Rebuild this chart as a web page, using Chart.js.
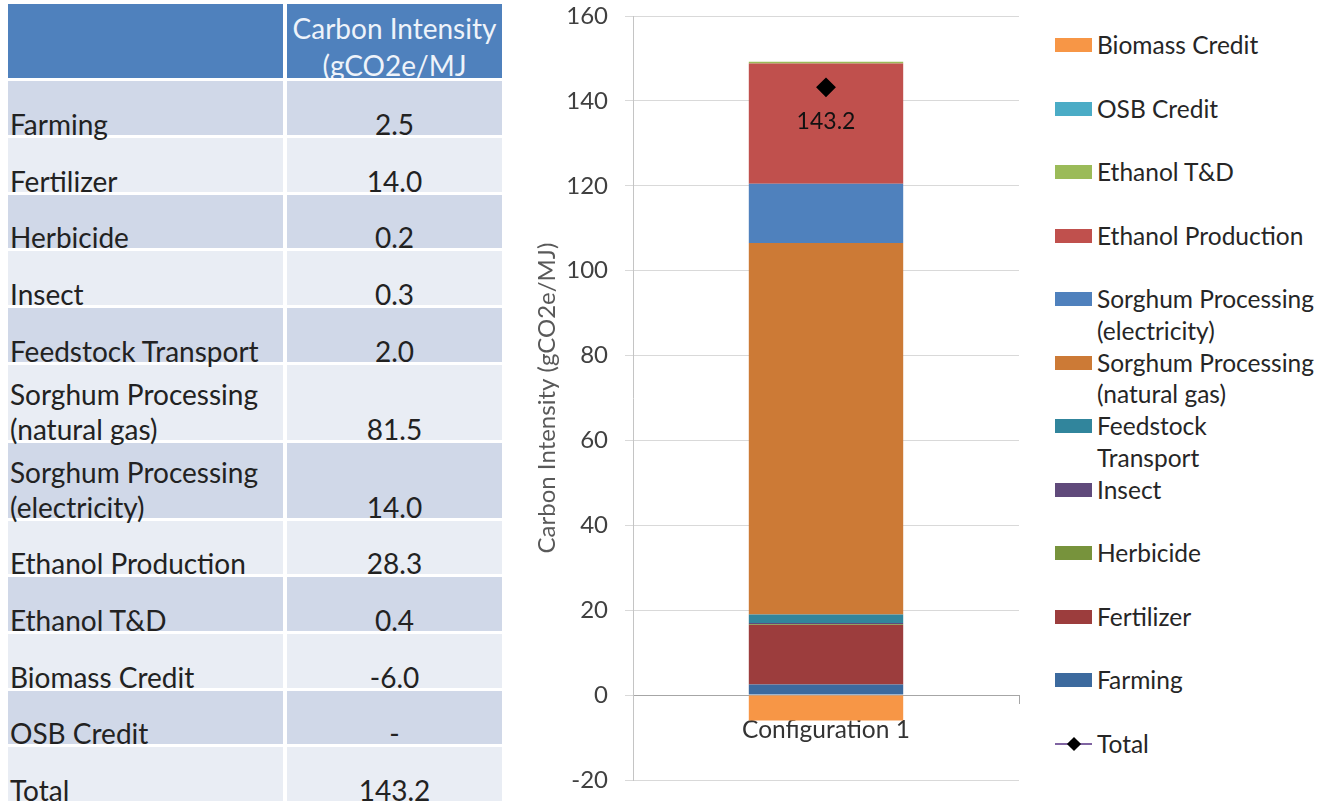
<!DOCTYPE html>
<html>
<head>
<meta charset="utf-8">
<script src="https://cdn.jsdelivr.net/npm/chart.js@4.4.1/dist/chart.umd.min.js"></script>
<style>
  body { margin: 0; background: #fff; width: 1330px; height: 804px; overflow: hidden; position: relative; font-family: Lato, sans-serif; }
  #ciTable { position: absolute; left: 4px; top: 1.3px; border-collapse: separate; border-spacing: 4px 3.8px; font-size: 28px; color: #222; }
  #ciTable tbody tr { height: 53.7px; }
  #ciTable td { padding: 5px 0 0 2px; vertical-align: bottom; line-height: 35px; }
  #ciTable td span { position: relative; top: 7px; }
  #ciTable td.val { text-align: center; padding-left: 0; }
  #ciTable col.c1 { width: 275px; }
  #ciTable col.c2 { width: 215px; }
  #ciTable th { background: #4f81bd; height: 74px; padding: 0; vertical-align: top; }
  #ciTable th div { height: 74px; overflow: hidden; color: #eef3fa; font-weight: normal; line-height: 37px; padding-top: 6px; box-sizing: border-box; text-align: center; }
  #ciTable tr.odd td { background: #d0d8e8; }
  #ciTable tr.even td { background: #e9edf4; }
  #chartBox { position: absolute; left: 520px; top: 0; width: 510px; height: 804px; }
  #legendBox { position: absolute; left: 1055px; top: 29px; width: 275px; font-size: 24.5px; color: #262626; }
  .lg-item { display: flex; align-items: flex-start; height: 63.5px; line-height: 31.75px; }
  .lg-sw { width: 37px; height: 14px; margin-top: 9px; margin-right: 5px; flex: none; position: relative; }
  .lg-text { width: 230px; white-space: pre-line; }
</style>
</head>
<body>
<table id="ciTable">
  <colgroup><col class="c1"><col class="c2"></colgroup>
  <thead><tr><th></th><th><div>Carbon Intensity<br>(gCO2e/MJ</div></th></tr></thead>
  <tbody></tbody>
</table>
<div id="chartBox"><canvas id="myChart"></canvas></div>
<div id="legendBox"></div>
<script>
// DATA
const categories = ["Configuration 1"];
const components = ["Farming", "Fertilizer", "Herbicide", "Insect", "Feedstock Transport",
  "Sorghum Processing (natural gas)", "Sorghum Processing (electricity)", "Ethanol Production",
  "Ethanol T&D", "OSB Credit", "Biomass Credit"];
// bar heights as drawn in the chart (natural gas segment is shown gross of the biomass credit)
const chartValues = [2.5, 14.0, 0.2, 0.3, 2.0, 87.5, 14.0, 28.3, 0.4, null, -6.0];
const totalValues = [143.2];
// table rows, as listed in the table
const tableNames = ["Farming", "Fertilizer", "Herbicide", "Insect", "Feedstock Transport",
  "Sorghum Processing (natural gas)", "Sorghum Processing (electricity)", "Ethanol Production",
  "Ethanol T&D", "Biomass Credit", "OSB Credit", "Total"];
const tableValues = [2.5, 14.0, 0.2, 0.3, 2.0, 81.5, 14.0, 28.3, 0.4, -6.0, null, 143.2];
const legendNames = ["Farming", "Fertilizer", "Herbicide", "Insect", "Feedstock\nTransport",
  "Sorghum Processing\n(natural gas)", "Sorghum Processing\n(electricity)", "Ethanol Production",
  "Ethanol T&D", "OSB Credit", "Biomass Credit"];
const yMin = -20, yMax = 160, yStep = 20;
const yTitle = "Carbon Intensity (gCO2e/MJ)";

// STYLE
const componentColors = ["#3c6a9e", "#9c3d3d", "#77933c", "#604a7b", "#31859c",
  "#cc7a36", "#4f81bd", "#c0504d", "#9bbb59", "#4bacc6", "#f79646"];
const totalLineColor = "#8064a2";
const tickFont = { family: "Lato", size: 24 };

// TABLE
const tbody = document.querySelector("#ciTable tbody");
const fmt = v => v == null ? "-" : v.toFixed(1);
tableNames.forEach((name, i) => {
  const tr = document.createElement("tr");
  tr.className = i % 2 === 0 ? "odd" : "even";
  const a = document.createElement("td");
  const sa = document.createElement("span"); sa.textContent = name; a.appendChild(sa);
  const b = document.createElement("td"); b.className = "val";
  const sb = document.createElement("span"); sb.textContent = fmt(tableValues[i]); b.appendChild(sb);
  tr.appendChild(a); tr.appendChild(b); tbody.appendChild(tr);
});

// CHART
const datasets = components.map((name, i) => ({
  label: name,
  data: [chartValues[i]],
  backgroundColor: componentColors[i],
  borderWidth: 0,
  stack: "parts",
  order: 1,
  categoryPercentage: 1,
  barPercentage: 0.4
}));
datasets.push({
  type: "line",
  label: "Total",
  data: totalValues,
  borderColor: totalLineColor,
  borderWidth: 2,
  pointStyle: "rectRot",
  pointRadius: 8.5,
  pointBackgroundColor: "#000",
  pointBorderColor: "#000",
  stack: "total",
  order: 0
});

const totalLabel = {
  id: "totalLabel",
  afterDatasetsDraw(chart) {
    const ctx = chart.ctx;
    chart.data.datasets.forEach((ds, di) => {
      if (ds.type !== "line") return;
      chart.getDatasetMeta(di).data.forEach((pt, i) => {
        ctx.save();
        ctx.font = "23px Lato";
        ctx.fillStyle = "#111";
        ctx.textAlign = "center";
        ctx.textBaseline = "middle";
        ctx.fillText(ds.data[i].toFixed(1), pt.x, pt.y + 34);
        ctx.restore();
      });
    });
  }
};

const htmlLegend = {
  id: "htmlLegend",
  afterUpdate(chart) {
    const box = document.getElementById("legendBox");
    box.innerHTML = "";
    const items = chart.options.plugins.legend.labels.generateLabels(chart);
    const isLine = it => chart.data.datasets[it.datasetIndex].type === "line";
    const bars = items.filter(it => !isLine(it)).sort((a, b) => b.datasetIndex - a.datasetIndex);
    const lines = items.filter(isLine);
    bars.concat(lines).forEach(it => {
      const row = document.createElement("div");
      row.className = "lg-item";
      const sw = document.createElement("div");
      sw.className = "lg-sw";
      if (isLine(it)) {
        sw.innerHTML = '<div style="position:absolute;left:0;right:0;top:6px;height:2px;background:' + it.strokeStyle +
          '"></div><div style="position:absolute;left:14px;top:2px;width:10px;height:10px;background:#000;transform:rotate(45deg)"></div>';
      } else {
        sw.style.background = it.fillStyle;
      }
      const tx = document.createElement("div");
      tx.className = "lg-text";
      tx.textContent = isLine(it) ? it.text : legendNames[it.datasetIndex];
      row.appendChild(sw); row.appendChild(tx);
      box.appendChild(row);
    });
  }
};

const config = {
  type: "bar",
  data: { labels: categories, datasets: datasets },
  plugins: [totalLabel, htmlLegend],
  options: {
    responsive: true,
    maintainAspectRatio: false,
    animation: false,
    layout: { padding: { top: 16, right: 11, bottom: 24, left: 0 } },
    plugins: { legend: { display: false }, tooltip: { enabled: false } },
    scales: {
      x: {
        stacked: true,
        position: { y: 0 },
        grid: { drawOnChartArea: false, drawTicks: true, tickLength: 8, color: "#a6a6a6", offset: true },
        border: { color: "#a6a6a6" },
        ticks: { font: { family: "Lato", size: 24.5 }, color: "#333", padding: 12 }
      },
      y: {
        stacked: true,
        min: yMin,
        max: yMax,
        ticks: { stepSize: yStep, font: tickFont, color: "#404040", padding: 17 },
        grid: { color: "#d9d9d9", tickLength: 8 },
        border: { color: "#c4c4c4" },
        title: { display: true, text: yTitle, font: { family: "Lato", size: 24 }, color: "#595959", padding: { top: 13, bottom: 0 } },
        afterFit(scale) {
          scale.width = 113;
          scale.paddingTop = 0;
          scale.paddingBottom = 0;
        }
      }
    }
  }
};

function drawChart() {
  const ctx = document.getElementById("myChart");
  return new Chart(ctx, config);
}
drawChart();
</script>
</body>
</html>
